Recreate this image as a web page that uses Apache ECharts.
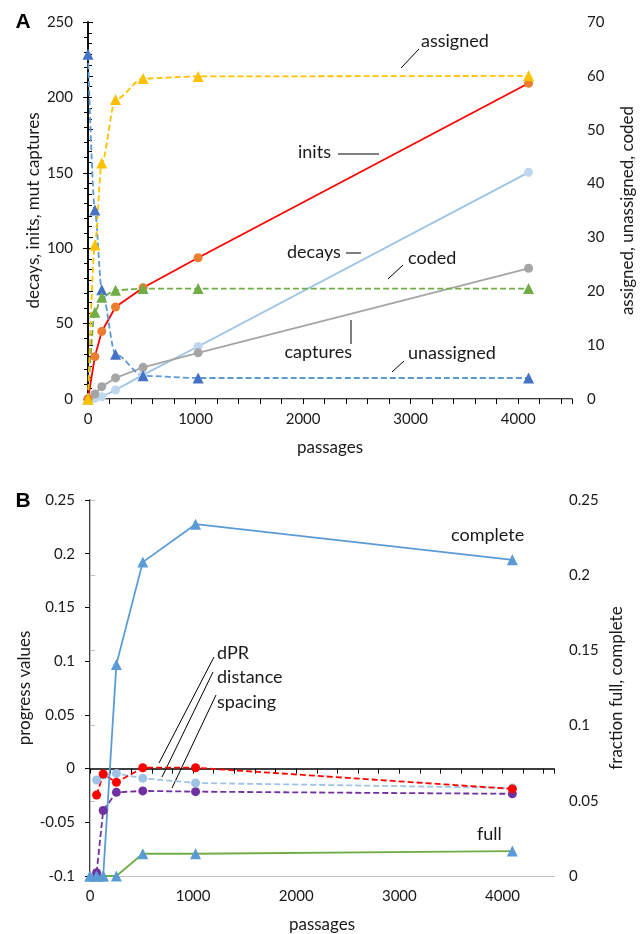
<!DOCTYPE html>
<html lang="en">
<head>
    <meta charset="UTF-8">
    <title>passages chart</title>
    <style>
        body{ margin:0; background:#fff; }
        #chart{ width:644px; height:934px; }
    </style>
    <script src="https://cdn.jsdelivr.net/npm/echarts/dist/echarts.min.js"></script>
</head>
<body>
    <div id="chart"></div>
    <script>
      // panel A
      var passagesA = [0, 64, 128, 256, 512, 1024, 4096]
      var inits = [0, 28.1, 44.8, 61, 73.8, 93.7, 209.4]
      var decays = [0, 0.5, 1.5, 6, 16, 34.8, 150.3]
      var captures = [0, 3.3, 8.2, 14, 21, 30.6, 86.7]
      var assigned = [0, 28.6, 43.8, 55.6, 59.5, 59.9, 60]
      var unassigned = [64, 35.1, 20.3, 8.3, 4.3, 3.9, 3.9]
      var coded = [0, 16.1, 18.9, 20.2, 20.5, 20.5, 20.5]

      // panel B
      var passagesB = [0, 64, 128, 256, 512, 1024, 4096]
      var complete = [0, 0, 0, 0.1407, 0.2087, 0.2339, 0.2102]
      var full = [0, 0, 0, 0, 0.0148, 0.0148, 0.0166]
      var dPR = [null, -0.0246, -0.0051, -0.0128, 0.0008, 0.0008, -0.0189]
      var distance = [null, -0.0106, -0.006, -0.0045, -0.0091, -0.0134, -0.018]
      var spacing = [null, -0.097, -0.039, -0.0221, -0.0208, -0.0215, -0.0235]

      var FONT = 'Lato, "Open Sans", sans-serif'
      var TXT = '#1a1a1a'

      function pairs(xs, ys) {
        var out = []
        for (var i = 0; i < xs.length; i++) {
          if (ys[i] !== null) out.push([xs[i], ys[i]])
        }
        return out
      }

      function xAxisCfg(grid) {
        return {
          type: 'value', gridIndex: grid, min: 0, max: 4500, interval: 1000,
          name: 'passages', nameLocation: 'middle', nameGap: 40,
          nameTextStyle: { fontFamily: FONT, fontSize: 17, color: TXT },
          axisLine: { lineStyle: { color: '#000', width: 1.5 } },
          axisTick: { show: true, inside: false, length: 5, lineStyle: { color: '#000' } },
          minorTick: { show: true, splitNumber: 5, length: 5, lineStyle: { color: '#000' } },
          axisLabel: { fontFamily: FONT, fontSize: 15, color: TXT, margin: 13,
            formatter: function (v) { return v <= 4000 ? String(v) : '' } },
          splitLine: { show: false }
        }
      }

      // gray line along the top of each plot
      function topAxis(grid) {
        return {
          type: 'value', gridIndex: grid, position: 'top', min: 0, max: 4500,
          axisLine: { lineStyle: { color: '#BFBFBF', width: 1 } },
          axisTick: { show: false }, axisLabel: { show: false }, splitLine: { show: false }
        }
      }

      function yAxisCfg(grid, pos, min, max, step, name, gap, lineColor, minor, fmt) {
        return {
          type: 'value', gridIndex: grid, position: pos, min: min, max: max, interval: step,
          name: name, nameLocation: 'middle', nameGap: gap, nameMoveOverlap: false,
          nameTextStyle: { fontFamily: FONT, fontSize: 17, color: TXT },
          axisLine: { show: true, lineStyle: { color: lineColor, width: lineColor === '#000' ? 1.5 : 1 } },
          axisTick: { show: true, length: 5, lineStyle: { color: lineColor } },
          minorTick: { show: minor, splitNumber: 5, length: 4, lineStyle: { color: lineColor } },
          axisLabel: { fontFamily: FONT, fontSize: 15, color: TXT, margin: 15, formatter: fmt },
          splitLine: { show: false }
        }
      }

      var fmtB = function (v) { return String(+v.toFixed(2)) }

      function line(name, xi, yi, xs, ys, lineColor, markColor, symbol, dashed, smooth) {
        return {
          name: name, type: 'line', xAxisIndex: xi, yAxisIndex: yi,
          data: pairs(xs, ys), symbol: symbol, symbolSize: symbol === 'triangle' ? 11 : 9,
          smooth: smooth ? 0.3 : false, smoothMonotone: 'x',
          lineStyle: { color: lineColor, width: 1.8, type: dashed ? [6, 3] : 'solid' },
          itemStyle: { color: markColor, borderWidth: 0 },
          emphasis: { disabled: true }
        }
      }

      function label(text, x, y, align) {
        return { type: 'text', style: { text: text, x: x, y: y, font: '18px ' + FONT,
          fill: TXT, align: align || 'left', verticalAlign: 'middle' } }
      }
      function leader(x1, y1, x2, y2) {
        return { type: 'line', shape: { x1: x1, y1: y1, x2: x2, y2: y2 },
          style: { stroke: '#000', lineWidth: 1 } }
      }

      var chart = echarts.init(document.getElementById('chart'))
      chart.setOption({
        animation: false,
        grid: [
          { left: 88, right: 69, top: 22, bottom: 535 },
          { left: 90, right: 90, top: 500, bottom: 56 }
        ],
        xAxis: [xAxisCfg(0), xAxisCfg(1), topAxis(0), topAxis(1)],
        yAxis: [
          yAxisCfg(0, 'left', 0, 250, 50, 'decays, inits, mut captures', 46, '#000', true),
          yAxisCfg(0, 'right', 0, 70, 10, 'assigned, unassigned, coded', 47, '#000', true),
          yAxisCfg(1, 'left', -0.1, 0.25, 0.05, 'progress values', 57, '#000', false, fmtB),
          yAxisCfg(1, 'right', 0, 0.25, 0.05, 'fraction full, complete', 54, '#BFBFBF', false, fmtB)
        ],
        series: [
          line('decays', 0, 0, passagesA, decays, '#9DC3E6', '#BDD7EE', 'circle', false, false),
          line('captures', 0, 0, passagesA, captures, '#A5A5A5', '#A5A5A5', 'circle', false, false),
          line('inits', 0, 0, passagesA, inits, '#FF0000', '#ED7D31', 'circle', false, false),
          line('unassigned', 0, 1, passagesA, unassigned, '#5B9BD5', '#4472C4', 'triangle', true, true),
          line('coded', 0, 1, passagesA, coded, '#70AD47', '#70AD47', 'triangle', true, true),
          line('assigned', 0, 1, passagesA, assigned, '#FFC000', '#FFC000', 'triangle', true, true),

          line('spacing', 1, 2, passagesB, spacing, '#7030A0', '#7030A0', 'circle', true, false),
          line('distance', 1, 2, passagesB, distance, '#9DC3E6', '#9DC3E6', 'circle', true, false),
          line('dPR', 1, 2, passagesB, dPR, '#FF0000', '#FF0000', 'circle', true, false),
          line('full', 1, 3, passagesB, full, '#70AD47', '#5B9BD5', 'triangle', false, false),
          line('complete', 1, 3, passagesB, complete, '#5B9BD5', '#5B9BD5', 'triangle', false, false)
        ],
        graphic: [
          { type: 'text', style: { text: 'A', x: 23, y: 22, font: 'bold 21px Arial, "Liberation Sans", sans-serif',
            fill: '#000', align: 'center', verticalAlign: 'middle' } },
          { type: 'text', style: { text: 'B', x: 23, y: 501, font: 'bold 21px Arial, "Liberation Sans", sans-serif',
            fill: '#000', align: 'center', verticalAlign: 'middle' } },

          label('assigned', 421, 41), leader(419, 49, 401, 68),
          label('inits', 298, 152), leader(338, 154, 379, 154),
          label('decays', 287, 252), leader(346, 253, 361, 253),
          label('coded', 408, 258), leader(403, 265, 388, 279),
          label('captures', 352, 352, 'right'), leader(351, 320, 351, 344),
          label('unassigned', 408, 353), leader(404, 361, 392, 372),

          label('dPR', 217, 653), leader(214, 657, 159, 763),
          label('distance', 217, 677), leader(213, 672, 162, 777),
          label('spacing', 217, 702), leader(216, 695, 172, 788),
          label('complete', 451, 535),
          label('full', 477, 834)
        ]
      })
    </script>
</body>
</html>
